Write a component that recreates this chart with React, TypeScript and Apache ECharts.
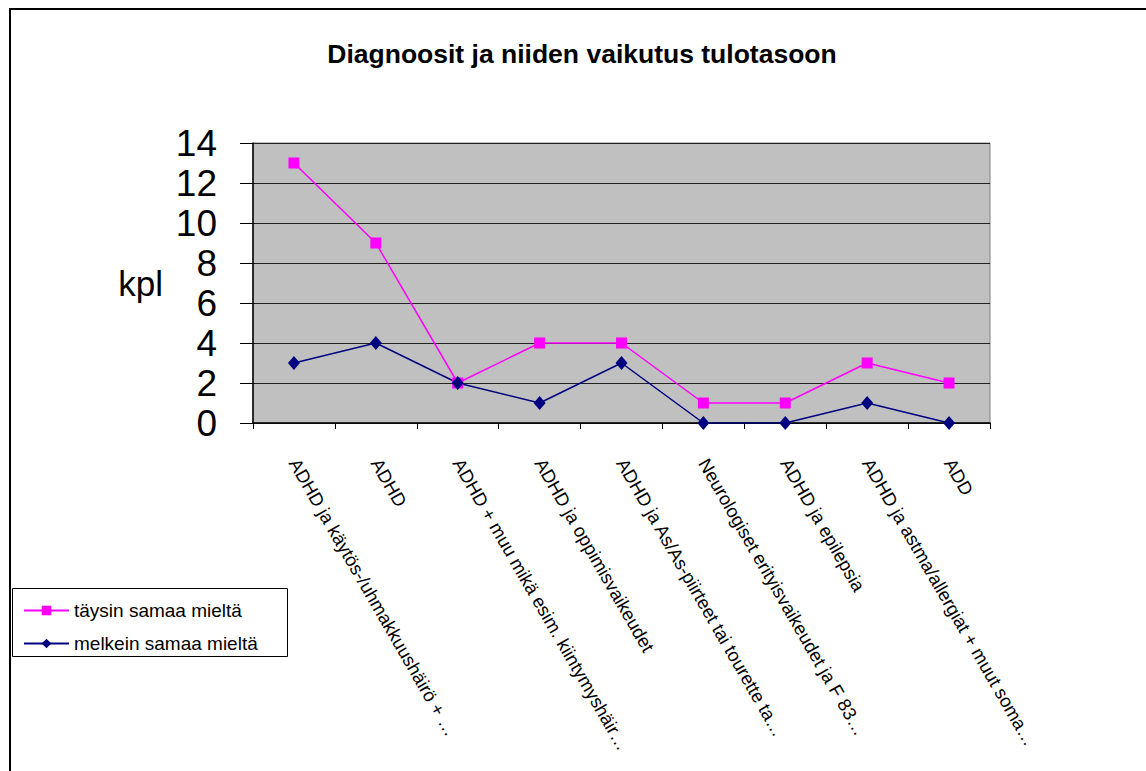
import React, { useEffect, useRef } from "react";
import * as echarts from "echarts";

const categories = [
  "ADHD ja käytös-/uhmakkuushäirö + …",
  "ADHD",
  "ADHD + muu mikä esim. kiintymyshäir…",
  "ADHD ja oppimisvaikeudet",
  "ADHD ja As/As-piirteet tai tourette ta…",
  "Neurologiset erityisvaikeudet ja F 83…",
  "ADHD ja epilepsia",
  "ADHD ja astma/allergiat + muut soma…",
  "ADD",
];
const taysin = [13, 9, 2, 4, 4, 1, 1, 3, 2];
const melkein = [3, 4, 2, 1, 3, 0, 0, 1, 0];
const seriesNames = ["täysin samaa mieltä", "melkein samaa mieltä"];
const title = "Diagnoosit ja niiden vaikutus tulotasoon";
const yName = "kpl";

const FONT = "Liberation Sans, Arial, sans-serif";

export default function App() {
  const ref = useRef<HTMLDivElement>(null);
  useEffect(() => {
    if (!ref.current) return;
    const chart = echarts.init(ref.current, undefined, { renderer: "svg" });
    chart.setOption({
      animation: false,
      backgroundColor: "#ffffff",
      title: {
        text: title,
        left: 577,
        textAlign: "center",
        top: 35,
        textStyle: { fontFamily: FONT, fontSize: 26.5, fontWeight: "bold", color: "#000" },
      },
      graphic: [
        {
          type: "rect",
          z: -10,
          shape: { x: 10, y: 9, width: 1200, height: 800 },
          style: { fill: "none", stroke: "#000", lineWidth: 2 },
        },
        {
          type: "rect",
          z: 1,
          shape: { x: 12.5, y: 588.5, width: 275, height: 68 },
          style: { fill: "#fff", stroke: "#000", lineWidth: 1 },
        },
      ],
      legend: {
        orient: "vertical",
        left: 18,
        top: 596,
        itemGap: 14,
        itemWidth: 45,
        itemHeight: 12,
        z: 5,
        data: seriesNames,
        textStyle: { fontFamily: FONT, fontSize: 19, color: "#000" },
      },
      grid: {
        left: 253,
        top: 143,
        width: 737,
        height: 280,
        show: true,
        backgroundColor: "#C0C0C0",
        borderColor: "#808080",
        borderWidth: 1,
      },
      xAxis: {
        type: "category",
        data: categories,
        boundaryGap: true,
        axisLine: { lineStyle: { color: "#000", width: 1.5 } },
        axisTick: { show: true, length: 6, inside: false, lineStyle: { color: "#000" } },
        axisLabel: {
          rotate: -60,
          margin: 37,
          interval: 0,
          fontFamily: FONT,
          fontSize: 18.5,
          color: "#000",
        },
      },
      yAxis: {
        type: "value",
        min: 0,
        max: 14,
        interval: 2,
        name: yName,
        nameLocation: "middle",
        nameRotate: 0,
        nameGap: 90,
        nameTextStyle: { fontFamily: FONT, fontSize: 35, color: "#000" },
        axisLine: { show: true, lineStyle: { color: "#000", width: 1.5 } },
        axisTick: { show: true, length: 13, inside: false, lineStyle: { color: "#000" } },
        axisLabel: { margin: 36, fontFamily: FONT, fontSize: 37, color: "#000" },
        splitLine: { show: true, lineStyle: { color: "#222", width: 1 } },
      },
      series: [
        {
          name: seriesNames[0],
          type: "line",
          data: taysin,
          symbol: "rect",
          symbolSize: 11,
          itemStyle: { color: "#FF00FF" },
          lineStyle: { color: "#FF00FF", width: 1.5 },
        },
        {
          name: seriesNames[1],
          type: "line",
          data: melkein,
          symbol: "diamond",
          symbolSize: [12, 14],
          itemStyle: { color: "#000080" },
          lineStyle: { color: "#000080", width: 1.5 },
        },
      ],
    });
    return () => chart.dispose();
  }, []);
  return (
    <div
      ref={ref}
      style={{ position: "fixed", left: 0, top: 0, width: 1146, height: 771 }}
    />
  );
}
